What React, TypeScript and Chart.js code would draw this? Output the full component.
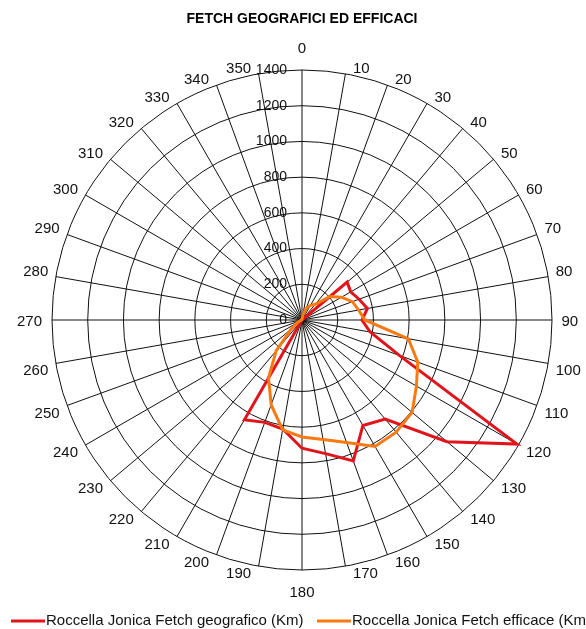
import { useEffect, useRef } from 'react';
import { Chart, registerables } from 'chart.js';

Chart.register(...registerables);

const TITLE = 'FETCH GEOGRAFICI ED EFFICACI';

const DIRECTIONS = [
  '0', '10', '20', '30', '40', '50', '60', '70', '80', '90', '100', '110',
  '120', '130', '140', '150', '160', '170', '180', '190', '200', '210', '220', '230',
  '240', '250', '260', '270', '280', '290', '300', '310', '320', '330', '340', '350',
];

const GEO_LABEL = 'Roccella Jonica Fetch geografico (Km)';
const FETCH_GEOGRAFICO = [
  0, 0, 0, 0, 0, 330, 315, 340, 372, 336, 388, 580,
  1390, 1060, 725, 682, 840, 760, 718, 620, 610, 645, 0, 0,
  0, 0, 0, 0, 0, 0, 0, 0, 0, 0, 0, 0,
];

const EFF_LABEL = 'Roccella Jonica Fetch efficace (Km)';
const FETCH_EFFICACE = [
  5, 30, 70, 95, 115, 205, 255, 300, 322, 352, 605, 690,
  740, 805, 820, 818, 730, 680, 655, 625, 505, 375, 225, 80,
  30, 10, 5, 5, 5, 5, 5, 5, 5, 5, 5, 5,
];

const R_MIN = 0;
const R_MAX = 1400;
const R_STEP = 200;

const RED = '#e2141b';
const ORANGE = '#f97a12';
const FONT = '"Liberation Sans", Arial, sans-serif';

const overlayPlugin = {
  id: 'overlay',
  beforeDatasetsDraw(chart: any) {
    const s = chart.scales.r;
    const ctx = chart.ctx;
    ctx.save();
    ctx.fillStyle = '#111';
    ctx.font = `14px ${FONT}`;
    ctx.textAlign = 'right';
    ctx.textBaseline = 'middle';
    s.ticks.forEach((t: any) => {
      const d = s.getDistanceFromCenterForValue(t.value);
      ctx.fillText(String(t.value), s.xCenter - 15, s.yCenter - d);
    });

    ctx.font = `15px ${FONT}`;
    ctx.textBaseline = 'alphabetic';
    const labels = chart.data.labels as string[];
    const n = labels.length;
    const glyphH = 11;
    labels.forEach((lab, i) => {
      const deg = (i / n) * 360;
      const p = s.getPointPosition(i, s.drawingArea);
      let x = p.x;
      let y = p.y;
      if (deg === 0) {
        ctx.textAlign = 'center';
        y = p.y - 17;
      } else if (deg === 180) {
        ctx.textAlign = 'center';
        y = p.y + 16 + glyphH;
      } else if (deg === 90) {
        ctx.textAlign = 'left';
        x = p.x + 9.5;
        y = p.y + glyphH / 2;
      } else if (deg === 270) {
        ctx.textAlign = 'right';
        x = p.x - 10;
        y = p.y + glyphH / 2;
      } else {
        const right = deg < 180;
        ctx.textAlign = right ? 'left' : 'right';
        x = p.x + (right ? 7.5 : -7.5);
        const upper = deg < 90 || deg > 270;
        y = upper ? p.y - 1 : p.y + 1 + glyphH;
      }
      ctx.fillText(lab, x, y);
    });
    ctx.restore();
  },
  afterDraw(chart: any) {
    const ctx = chart.ctx;
    const starts = [11, 317];
    const y = 621;
    ctx.save();
    ctx.font = `15px ${FONT}`;
    ctx.textAlign = 'left';
    ctx.textBaseline = 'middle';
    chart.data.datasets.forEach((ds: any, i: number) => {
      const x = starts[i];
      ctx.strokeStyle = ds.borderColor;
      ctx.lineWidth = 3;
      ctx.beginPath();
      ctx.moveTo(x, y);
      ctx.lineTo(x + 34, y);
      ctx.stroke();
      ctx.fillStyle = '#111';
      ctx.fillText(ds.label, x + 35, y);
    });
    ctx.restore();
  },
};

export default function App() {
  const ref = useRef<HTMLCanvasElement | null>(null);

  useEffect(() => {
    if (!ref.current) return;
    const chart = new Chart(ref.current, {
      type: 'radar',
      data: {
        labels: DIRECTIONS,
        datasets: [
          {
            label: GEO_LABEL,
            data: FETCH_GEOGRAFICO,
            borderColor: RED,
            backgroundColor: 'transparent',
            borderWidth: 3,
            pointRadius: 0,
            fill: false,
            tension: 0,
            order: 1,
          },
          {
            label: EFF_LABEL,
            data: FETCH_EFFICACE,
            borderColor: ORANGE,
            backgroundColor: 'transparent',
            borderWidth: 3,
            pointRadius: 0,
            fill: false,
            tension: 0,
            order: 0,
          },
        ],
      },
      options: {
        responsive: false,
        animation: false,
        devicePixelRatio: 1,
        layout: { padding: { left: 52, right: 34, top: 0, bottom: 58 } },
        plugins: {
          legend: { display: false },
          tooltip: { enabled: false },
          title: {
            display: true,
            text: TITLE,
            color: '#000',
            font: { family: FONT, size: 14, weight: 'bold' },
            padding: { top: 11, bottom: 42.2 },
          },
        },
        scales: {
          r: {
            min: R_MIN,
            max: R_MAX,
            ticks: { stepSize: R_STEP, display: false },
            grid: { color: '#111', lineWidth: 1, circular: true },
            angleLines: { color: '#111', lineWidth: 1 },
            pointLabels: { display: false },
          },
        },
      },
      plugins: [overlayPlugin],
    } as any);
    return () => chart.destroy();
  }, []);

  return (
    <div style={{ position: 'absolute', left: 0, top: 0, width: 586, height: 629, background: '#fff' }}>
      <canvas ref={ref} width={586} height={629} style={{ display: 'block' }} />
    </div>
  );
}
